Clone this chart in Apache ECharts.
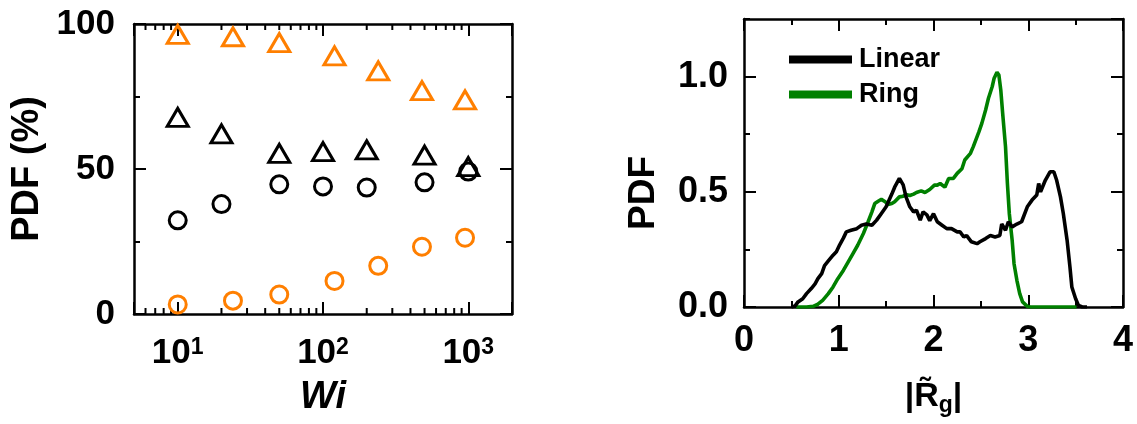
<!DOCTYPE html>
<html>
<head>
<meta charset="utf-8">
<script src="https://cdn.jsdelivr.net/npm/echarts@6/dist/echarts.min.js"></script>
<style>
  html, body { margin: 0; padding: 0; background: #fff; }
  #chart { width: 1137px; height: 424px; }
</style>
</head>
<body>
<div id="chart"></div>
<script>
// ---- Left panel: state fractions versus Wi (log axis) ----
const wiLinear = [10, 20, 50, 100, 200, 500, 1000];
const linearTriangle = [67.8, 62.1, 55.4, 56.0, 56.6, 54.8, 50.8];
const linearCircle = [32.3, 37.9, 44.7, 44.0, 43.6, 45.4, 49.1];
const wiRing = [10, 24, 50, 120, 240, 480, 950];
const ringTriangle = [96.4, 95.6, 93.6, 89.0, 83.8, 77.0, 73.8];
const ringCircle = [3.3, 4.6, 6.7, 11.4, 16.6, 23.2, 26.3];
const wiMajor = [10, 100, 1000];
const wiMinor = [6, 7, 8, 9, 20, 30, 40, 50, 60, 70, 80, 90,
                 200, 300, 400, 500, 600, 700, 800, 900];
const pctLabels = [0, 50, 100];

// ---- Right panel: PDF of |Rg| ----
const linearRg = [0.50, 0.54, 0.57, 0.62, 0.66, 0.71, 0.75, 0.78, 0.82, 0.85, 0.89, 0.94, 0.975,
  1.01, 1.05, 1.08, 1.13, 1.19, 1.24, 1.29, 1.35, 1.40, 1.45, 1.50, 1.56, 1.59, 1.64, 1.68,
  1.71, 1.75, 1.79, 1.82, 1.86, 1.89, 1.93, 1.96, 2.00, 2.04, 2.09, 2.14, 2.19, 2.25, 2.28,
  2.32, 2.35, 2.40, 2.46, 2.49, 2.55, 2.60, 2.65, 2.70, 2.72, 2.76, 2.79, 2.83, 2.88, 2.93,
  2.99, 3.04, 3.09, 3.11, 3.13, 3.18, 3.23, 3.27, 3.30, 3.34, 3.37, 3.41, 3.44, 3.46, 3.50,
  3.53, 3.57, 3.62];
const linearPdf = [0, 0.005, 0.022, 0.036, 0.058, 0.080, 0.100, 0.123, 0.145, 0.180, 0.200, 0.225, 0.240,
  0.270, 0.300, 0.326, 0.333, 0.340, 0.355, 0.360, 0.355, 0.377, 0.406, 0.435, 0.490, 0.520, 0.558, 0.530,
  0.478, 0.435, 0.413, 0.420, 0.377, 0.413, 0.400, 0.375, 0.405, 0.370, 0.355, 0.340, 0.340, 0.326, 0.326,
  0.304, 0.310, 0.283, 0.275, 0.283, 0.297, 0.310, 0.304, 0.310, 0.360, 0.333, 0.370, 0.348, 0.360, 0.370,
  0.435, 0.464, 0.486, 0.536, 0.500, 0.550, 0.587, 0.587, 0.550, 0.478, 0.406, 0.290, 0.174, 0.087, 0.036,
  0.007, 0, 0];
const ringRg = [0.55, 0.66, 0.73, 0.78, 0.83, 0.89, 0.94, 0.99, 1.05, 1.10, 1.15, 1.20, 1.26, 1.31,
  1.35, 1.38, 1.42, 1.45, 1.49, 1.52, 1.56, 1.59, 1.64, 1.68, 1.71, 1.75, 1.79, 1.82, 1.87, 1.91,
  1.96, 2.01, 2.04, 2.07, 2.12, 2.16, 2.21, 2.25, 2.30, 2.33, 2.39, 2.42, 2.48, 2.51, 2.55, 2.58,
  2.62, 2.64, 2.67, 2.69, 2.71, 2.73, 2.76, 2.78, 2.80, 2.83, 2.85, 2.88, 2.91, 2.94, 2.99, 3.02, 3.51];
const ringPdf = [0, 0, 0.003, 0.012, 0.029, 0.058, 0.087, 0.123, 0.160, 0.196, 0.232, 0.268, 0.319, 0.370,
  0.413, 0.449, 0.460, 0.467, 0.457, 0.445, 0.449, 0.457, 0.478, 0.481, 0.488, 0.484, 0.490, 0.497, 0.504, 0.497,
  0.510, 0.529, 0.529, 0.536, 0.520, 0.558, 0.558, 0.580, 0.600, 0.638, 0.667, 0.696, 0.761, 0.797, 0.855, 0.906,
  0.957, 0.993, 1.019, 1.007, 0.942, 0.840, 0.696, 0.536, 0.406, 0.290, 0.188, 0.116, 0.058, 0.022, 0.003, 0, 0];

const FONT = "'Liberation Sans', Arial, Helvetica, sans-serif";
const BLACK = '#000000';
const ORANGE = '#ff7f00';
const GREEN = '#008000';

const zip = (xs, ys) => xs.map((x, i) => [x, ys[i]]);
const lineOn = { show: true, onZero: false, lineStyle: { color: BLACK, width: 2.5 } };
const lineOff = { show: false, onZero: false };
const tickLine = { color: BLACK, width: 2 };

// Wi axis (log scale); decade ticks come from the scale itself
function wiAxis(position, withLabels) {
  const ax = {
    type: 'log', logBase: 10, gridIndex: 0, position: position, min: 5, max: 2000,
    axisLine: lineOn,
    axisTick: { show: true, inside: true, length: 12, lineStyle: tickLine },
    splitLine: { show: false },
    axisLabel: { show: false }
  };
  if (withLabels) {
    ax.axisLabel = {
      show: true, customValues: wiMajor, margin: 22,
      formatter: v => '{b|10}{sup|' + Math.round(Math.log10(v)) + '}',
      rich: {
        b: { fontFamily: FONT, fontWeight: 'bold', fontSize: 35, lineHeight: 35, color: BLACK },
        sup: { fontFamily: FONT, fontWeight: 'bold', fontSize: 23, lineHeight: 16,
               verticalAlign: 'top', color: BLACK }
      }
    };
    ax.name = 'Wi';
    ax.nameLocation = 'middle';
    ax.nameGap = 65;
    ax.nameTextStyle = { fontFamily: FONT, fontWeight: 'bold', fontStyle: 'italic',
                         fontSize: 38, color: BLACK };
  }
  return ax;
}

function pctAxis(position, withLabels) {
  const ax = {
    type: 'value', gridIndex: 0, position: position, min: 0, max: 100, interval: 50,
    axisLine: lineOn,
    axisTick: { show: true, inside: true, length: 12, lineStyle: tickLine },
    minorTick: { show: true, splitNumber: 2, length: 6, lineStyle: tickLine },
    splitLine: { show: false },
    axisLabel: { show: false }
  };
  if (withLabels) {
    ax.axisLabel = { show: true, margin: 19, fontFamily: FONT, fontWeight: 'bold',
                     fontSize: 35, color: BLACK, customValues: pctLabels };
    ax.name = 'PDF (%)';
    ax.nameLocation = 'middle';
    ax.nameGap = 87;
    ax.nameTextStyle = { fontFamily: FONT, fontWeight: 'bold', fontSize: 38, color: BLACK };
  }
  return ax;
}

function rgAxis(position, withLabels) {
  const ax = {
    type: 'value', gridIndex: 1, position: position, min: 0, max: 4, interval: 1,
    axisLine: lineOn,
    axisTick: { show: true, inside: true, length: 12, lineStyle: tickLine },
    minorTick: { show: true, splitNumber: 2, length: 6, lineStyle: tickLine },
    splitLine: { show: false },
    axisLabel: { show: false }
  };
  if (withLabels) {
    ax.axisLabel = { show: true, margin: 16, fontFamily: FONT, fontWeight: 'bold',
                     fontSize: 36, color: BLACK };
    ax.name = '{bar||}{r|R\u0303}{sub|g}{bar||}';
    ax.nameLocation = 'middle';
    ax.nameGap = 70;
    ax.nameTextStyle = {
      rich: {
        bar: { fontFamily: FONT, fontWeight: 'bold', fontSize: 34, lineHeight: 40, color: BLACK },
        r: { fontFamily: FONT, fontWeight: 'bold', fontSize: 34, lineHeight: 40, color: BLACK },
        sub: { fontFamily: FONT, fontWeight: 'bold', fontSize: 23, lineHeight: 22,
               verticalAlign: 'bottom', color: BLACK }
      }
    };
  }
  return ax;
}

// PDF axis: labelled ticks every 0.5, short ticks every 0.25 on a companion axis
function pdfAxis(position, step, len, main, withLabels) {
  const ax = {
    type: 'value', gridIndex: 1, position: position, min: 0, max: 1.25, interval: step,
    axisLine: main ? lineOn : lineOff,
    axisTick: { show: true, inside: true, length: len, lineStyle: tickLine },
    splitLine: { show: false },
    axisLabel: { show: false }
  };
  if (withLabels) {
    ax.axisLabel = {
      show: true, margin: 16, fontFamily: FONT, fontWeight: 'bold', fontSize: 36, color: BLACK,
      showMaxLabel: false,
      formatter: v => (Math.abs(v * 2 - Math.round(v * 2)) < 1e-6 ? v.toFixed(1) : '')
    };
    ax.name = 'PDF';
    ax.nameLocation = 'middle';
    ax.nameGap = 82;
    ax.nameTextStyle = { fontFamily: FONT, fontWeight: 'bold', fontSize: 37, color: BLACK,
                         padding: [0, 60, 0, 0] };
  }
  return ax;
}

function hollow(xs, ys, symbol, size, color) {
  return {
    type: 'scatter', xAxisIndex: 0, yAxisIndex: 0,
    data: zip(xs, ys), symbol: symbol, symbolSize: size,
    itemStyle: { color: 'rgba(0,0,0,0)', borderColor: color, borderWidth: 3, opacity: 1 },
    emphasis: { disabled: true }, silent: true
  };
}

// short ticks at 2..9 x 10^n along the bottom and top of the Wi panel
const wiMinorTicks = {
  type: 'custom', xAxisIndex: 0, yAxisIndex: 0, silent: true, clip: false,
  data: wiMinor.map(w => [w, 0]),
  encode: { x: 0, y: 1 },
  renderItem: (params, api) => {
    const w = api.value(0);
    const pb = api.coord([w, 0]);
    const pt = api.coord([w, 100]);
    const st = { stroke: BLACK, lineWidth: 2 };
    return {
      type: 'group',
      children: [
        { type: 'line', shape: { x1: pb[0], y1: pb[1], x2: pb[0], y2: pb[1] - 6 }, style: st },
        { type: 'line', shape: { x1: pt[0], y1: pt[1], x2: pt[0], y2: pt[1] + 6 }, style: st }
      ]
    };
  }
};

const chart = echarts.init(document.getElementById('chart'), null, { renderer: 'canvas' });
chart.setOption({
  animation: false,
  backgroundColor: '#ffffff',
  textStyle: { fontFamily: FONT },
  grid: [
    { left: 134, top: 24, width: 378, height: 290, outerBoundsMode: 'none', containLabel: false },
    { left: 744, top: 19, width: 379, height: 288, outerBoundsMode: 'none', containLabel: false }
  ],
  xAxis: [
    wiAxis('bottom', true),
    wiAxis('top', false),
    rgAxis('bottom', true),
    rgAxis('top', false)
  ],
  yAxis: [
    pctAxis('left', true),
    pctAxis('right', false),
    pdfAxis('left', 0.5, 12, true, true),
    pdfAxis('left', 0.25, 6, false, false),
    pdfAxis('right', 0.5, 12, true, false),
    pdfAxis('right', 0.25, 6, false, false)
  ],
  legend: {
    data: ['Linear', 'Ring'],
    orient: 'vertical', left: 784, top: 41,
    icon: 'rect', itemWidth: 63, itemHeight: 8, itemGap: 8,
    selectedMode: false,
    textStyle: { fontFamily: FONT, fontWeight: 'bold', fontSize: 27, color: BLACK,
                 padding: [0, 0, 0, 2] }
  },
  series: [
    wiMinorTicks,
    hollow(wiRing, ringCircle, 'circle', 17, ORANGE),
    hollow(wiRing, ringTriangle, 'triangle', [21, 18], ORANGE),
    hollow(wiLinear, linearCircle, 'circle', 17, BLACK),
    hollow(wiLinear, linearTriangle, 'triangle', [21, 18], BLACK),
    {
      type: 'line', name: 'Ring', xAxisIndex: 2, yAxisIndex: 2,
      data: zip(ringRg, ringPdf), showSymbol: false, silent: true,
      itemStyle: { color: GREEN }, lineStyle: { color: GREEN, width: 3.6 }
    },
    {
      type: 'line', name: 'Linear', xAxisIndex: 2, yAxisIndex: 2,
      data: zip(linearRg, linearPdf), showSymbol: false, silent: true,
      itemStyle: { color: BLACK }, lineStyle: { color: BLACK, width: 3.6 }
    }
  ]
});
</script>
</body>
</html>
